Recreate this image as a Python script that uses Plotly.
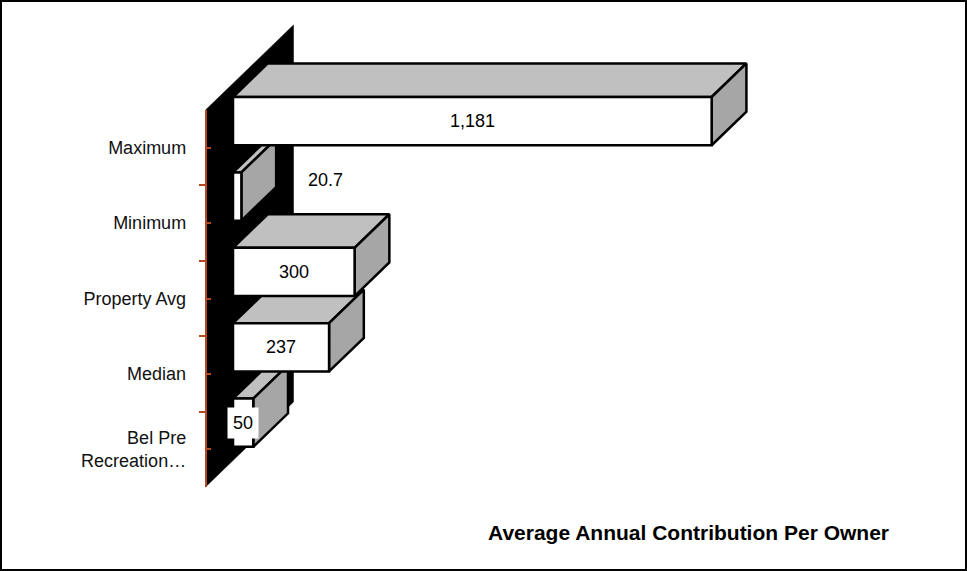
import plotly.graph_objects as go

# ---- data -------------------------------------------------------------
categories = ["Maximum", "Minimum", "Property Avg", "Median", "Bel Pre<br>Recreation…"]
values = [1181, 20.7, 300, 237, 50]
value_labels = ["1,181", "20.7", "300", "237", "50"]
axis_title = "Average Annual Contribution Per Owner"

# ---- layout constants (pixels) ----------------------------------------
W, H = 967, 571
AXIS_X = 205.5                 # front edge of the side wall
CAT_TOP, CAT_BOTTOM = 110, 487  # extent of the category axis
PX_PER_UNIT = 0.4053           # value scale
DEPTH = (88.0, -85.0)          # screen offset of the full chart depth
BAR_FRONT, BAR_BACK = 0.3125, 0.7075   # bar depth span (fraction of depth)
BAR_FRAC = 0.64                # bar thickness as a fraction of a category band

FONT = "Liberation Sans, Arial, sans-serif"
AXIS_COLOR = "#B5481C"
TOP_COLOR = "#C0C0C0"
SIDE_COLOR = "#A6A6A6"

n = len(categories)
band = (CAT_BOTTOM - CAT_TOP) / n

# data ranges chosen so one value unit / one category map onto the pixel scale
x_range = [-AXIS_X / PX_PER_UNIT, (W - AXIS_X) / PX_PER_UNIT]
y_top = -0.5 - CAT_TOP / band
y_bottom = -0.5 + (H - CAT_TOP) / band


def proj(v, k, d):
    """Oblique projection of (value, category, depth) onto the 2-D axes."""
    return v + d * DEPTH[0] / PX_PER_UNIT, k + d * DEPTH[1] / band


def polygon(points, fill, line_color="black", width=2.5):
    xs, ys = zip(*[proj(*p) for p in points])
    return go.Scatter(
        x=list(xs) + [xs[0]], y=list(ys) + [ys[0]],
        mode="lines", fill="toself", fillcolor=fill,
        line=dict(color=line_color, width=width, shape="linear"),
        hoverinfo="skip", showlegend=False,
    )


fig = go.Figure()

# side wall at value 0, spanning all categories and the full depth
lo, hi = -0.5, n - 0.5
fig.add_trace(polygon([(0, lo, 0), (0, lo, 1), (0, hi, 1), (0, hi, 0)],
                      "black", line_color="black", width=0.5))

# 3-D bars, painted from the bottom category upward
h = BAR_FRAC / 2
for k in reversed(range(n)):
    v = values[k]
    f1, f2 = BAR_FRONT, BAR_BACK
    fig.add_trace(polygon([(0, k - h, f1), (v, k - h, f1), (v, k - h, f2), (0, k - h, f2)], TOP_COLOR))
    fig.add_trace(polygon([(v, k - h, f1), (v, k + h, f1), (v, k + h, f2), (v, k - h, f2)], SIDE_COLOR))
    fig.add_trace(polygon([(0, k - h, f1), (v, k - h, f1), (v, k + h, f1), (0, k + h, f1)], "white"))

# invisible trace carrying the category axis
fig.add_trace(go.Scatter(x=[0], y=[0], xaxis="x", yaxis="y2", mode="markers",
                         marker=dict(opacity=0), hoverinfo="skip", showlegend=False))

# value labels centred on the front faces
annotations = []
for k, (v, txt) in enumerate(zip(values, value_labels)):
    cx, cy = proj(v / 2, k, BAR_FRONT)
    ann = dict(x=cx, y=cy, xref="x", yref="y", text=txt, showarrow=False,
               font=dict(family=FONT, size=18, color="black"),
               xanchor="center", yanchor="middle")
    if v * PX_PER_UNIT < 12:
        # too thin for an inside label: place it beside the bar
        ann.update(xshift=88, yshift=17)
    elif v * PX_PER_UNIT < 30:
        ann.update(bgcolor="white", borderpad=5)
    annotations.append(ann)

annotations.append(dict(
    x=688.5 / W, y=(H - 532) / H, xref="paper", yref="paper",
    text=f"<b>{axis_title}</b>", showarrow=False,
    font=dict(family=FONT, size=21, color="black"),
    xanchor="center", yanchor="middle",
))

fig.update_layout(
    width=W, height=H,
    margin=dict(l=0, r=0, t=0, b=0),
    paper_bgcolor="white", plot_bgcolor="rgba(0,0,0,0)",
    xaxis=dict(range=x_range, visible=False, domain=[0, 1], fixedrange=True),
    yaxis=dict(range=[y_bottom, y_top], visible=False, domain=[0, 1], fixedrange=True),
    yaxis2=dict(
        domain=[(H - CAT_BOTTOM) / H, (H - CAT_TOP) / H],
        range=[n - 0.5, -0.5],
        anchor="free", position=AXIS_X / W,
        tickmode="array", tickvals=list(range(n)), ticktext=categories,
        ticks="inside", ticklen=5, tickwidth=2, tickcolor=AXIS_COLOR,
        minor=dict(tickmode="array", tickvals=[k - 0.5 for k in range(n + 1)],
                   ticks="outside", ticklen=6, tickwidth=2, tickcolor=AXIS_COLOR),
        showline=True, linecolor=AXIS_COLOR, linewidth=1.5,
        showgrid=False, zeroline=False, fixedrange=True,
        tickfont=dict(family=FONT, size=18, color="#111111"),
        ticklabelstandoff=15,
    ),
    annotations=annotations,
    shapes=[dict(type="rect", xref="paper", yref="paper", x0=0, y0=0, x1=1, y1=1,
                 line=dict(color="black", width=4), fillcolor="rgba(0,0,0,0)")],
    showlegend=False,
)

fig.write_html("out.html")
